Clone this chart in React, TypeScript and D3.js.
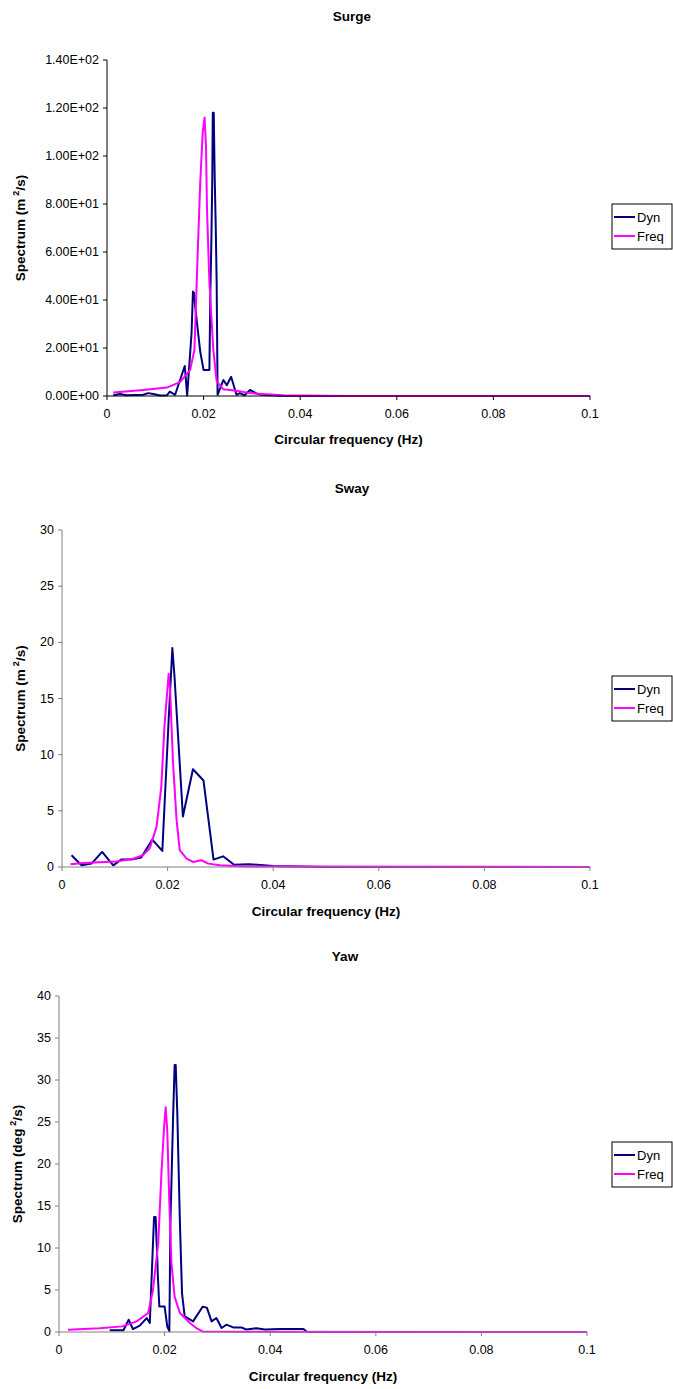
import React from "react";
import * as d3 from "d3";

// Spectra: [frequency (Hz), spectral density]
const surgeDyn: [number, number][] = [
  [0.0013, 0.3], [0.0027, 0.8], [0.004, 0.3], [0.0075, 0.5], [0.0085, 1.2], [0.0096, 0.8],
  [0.011, 0.2], [0.0124, 0.3], [0.013, 1.8], [0.0141, 0.5], [0.0161, 12.5], [0.0166, 0.2],
  [0.0175, 26], [0.0178, 43.5], [0.018, 43], [0.0184, 34.6], [0.0193, 18.5], [0.02, 10.8],
  [0.0212, 10.8], [0.0214, 43], [0.0216, 63.6], [0.0218, 91], [0.0219, 118], [0.0221, 118], [0.0223, 91],
  [0.0225, 72], [0.0227, 48], [0.0229, 0.5], [0.0241, 6.7], [0.0248, 4.5], [0.0257, 8],
  [0.0268, 0.5], [0.0275, 1.2], [0.0285, 0.3], [0.0296, 2.5], [0.031, 1.0], [0.032, 0.5],
  [0.036, 0.1], [0.05, 0], [0.1, 0],
];
const surgeFreq: [number, number][] = [
  [0.0013, 1.5], [0.0075, 2.5], [0.0124, 3.5], [0.0151, 5.8], [0.0172, 10.8], [0.0181, 19.2],
  [0.0188, 60.8], [0.0193, 88.6], [0.0198, 109.4], [0.0202, 116], [0.0205, 104], [0.0207, 78],
  [0.0212, 47.5], [0.022, 19.5], [0.0227, 6.2], [0.0241, 2.8], [0.0268, 2.2], [0.0296, 1.2],
  [0.0365, 0.3], [0.05, 0.05], [0.1, 0],
];

const swayDyn: [number, number][] = [
  [0.0018, 1.04], [0.0037, 0.15], [0.0056, 0.3], [0.0076, 1.34], [0.0097, 0.15], [0.0112, 0.66],
  [0.0131, 0.66], [0.015, 0.84], [0.0171, 2.44], [0.019, 1.43], [0.0202, 13.1], [0.0209, 19.5],
  [0.0213, 17.0], [0.0229, 4.5], [0.0248, 8.7], [0.0268, 7.7], [0.0287, 0.66], [0.0305, 0.95],
  [0.0326, 0.2], [0.0355, 0.25], [0.04, 0.1], [0.05, 0], [0.1, 0],
];
const swayFreq: [number, number][] = [
  [0.0016, 0.24], [0.004, 0.36], [0.0103, 0.48], [0.0135, 0.74], [0.0153, 1.04], [0.0166, 1.64],
  [0.0179, 3.57], [0.0188, 7.1], [0.0194, 12.5], [0.0202, 17.2], [0.0205, 15.5], [0.021, 9.5],
  [0.0217, 4.2], [0.0223, 1.5], [0.0236, 0.74], [0.0248, 0.45], [0.0264, 0.6], [0.0277, 0.3],
  [0.0299, 0.15], [0.035, 0.05], [0.1, 0],
];

const yawDyn: [number, number][] = [
  [0.0096, 0.2], [0.0122, 0.2], [0.0132, 1.46], [0.014, 0.35], [0.0153, 0.75], [0.0166, 1.66],
  [0.0172, 1.07], [0.0175, 5.8], [0.018, 13.7], [0.0183, 13.7], [0.0186, 9.0], [0.0187, 7.0],
  [0.019, 3.05], [0.02, 3.05], [0.0205, 0.67], [0.0209, 0.1], [0.0211, 12.96], [0.0216, 25.4],
  [0.0219, 31.8], [0.0221, 31.8], [0.0224, 26.2], [0.0229, 12.96], [0.0233, 4.6], [0.0238, 1.86],
  [0.0254, 1.26], [0.0272, 3.0], [0.028, 2.9], [0.0289, 1.26], [0.0298, 1.66], [0.0308, 0.47],
  [0.0317, 0.87], [0.033, 0.55], [0.0345, 0.55], [0.0355, 0.3], [0.0374, 0.44], [0.039, 0.3],
  [0.0419, 0.35], [0.0463, 0.35], [0.047, 0], [0.1, 0],
];
const yawFreq: [number, number][] = [
  [0.0017, 0.27], [0.0077, 0.45], [0.012, 0.67], [0.0147, 1.26], [0.0169, 2.26], [0.0178, 5.0],
  [0.0188, 10.6], [0.0194, 18.9], [0.0199, 24.4], [0.0202, 26.75], [0.0205, 24.05], [0.0209, 15.3],
  [0.0213, 8.2], [0.0219, 4.2], [0.0229, 2.26], [0.0248, 1.07], [0.026, 0.47], [0.0272, 0.07],
  [0.035, 0.02], [0.1, 0],
];

const xTicks = [0, 0.02, 0.04, 0.06, 0.08, 0.1];
const surgeTicks = [0, 20, 40, 60, 80, 100, 120, 140];
const swayTicks = [0, 5, 10, 15, 20, 25, 30];
const yawTicks = [0, 5, 10, 15, 20, 25, 30, 35, 40];

const seriesNames = ["Dyn", "Freq"];
const seriesColors = ["#000080", "#FF00FF"];

const FONT = "'Liberation Sans', Arial, sans-serif";

// Excel-style scientific notation, e.g. 1.40E+02
function sci(v: number): string {
  const [m, e] = v.toExponential(2).split("e");
  const n = parseInt(e, 10);
  const sign = n < 0 ? "-" : "+";
  return `${m}E${sign}${String(Math.abs(n)).padStart(2, "0")}`;
}

type ChartProps = {
  title: string;
  unitBase: string;
  dyn: [number, number][];
  freq: [number, number][];
  yTicks: number[];
  yFormat: (v: number) => string;
  left: number;
  right: number;
  top: number;
  bottom: number;
  titleX: number;
  titleY: number;
  xTitleY: number;
  yTitleX: number;
  legendY: number;
  axisColor: string;
};

function Chart(p: ChartProps) {
  const x = d3.scaleLinear().domain([0, 0.1]).range([p.left, p.right]);
  const yMax = p.yTicks[p.yTicks.length - 1];
  const y = d3.scaleLinear().domain([0, yMax]).range([p.bottom, p.top]);
  const line = d3
    .line<[number, number]>()
    .x((d) => x(d[0]))
    .y((d) => y(d[1]));
  const cy = (p.top + p.bottom) / 2;
  const cx = (p.left + p.right) / 2;
  const lx = 612;
  return (
    <g fontFamily={FONT}>
      <text x={p.titleX} y={p.titleY} textAnchor="middle" fontSize={13.5} fontWeight="bold">
        {p.title}
      </text>
      {/* data lines */}
      <path d={line(p.dyn) || ""} fill="none" stroke={seriesColors[0]} strokeWidth={2} strokeLinejoin="round" />
      <path d={line(p.freq) || ""} fill="none" stroke={seriesColors[1]} strokeWidth={2} strokeLinejoin="round" />
      {/* axes */}
      <line x1={p.left} x2={p.left} y1={p.top} y2={p.bottom} stroke={p.axisColor} strokeWidth={1} />
      <line x1={p.left} x2={p.right} y1={p.bottom} y2={p.bottom} stroke={p.axisColor} strokeWidth={1} />
      {p.yTicks.map((t) => (
        <g key={"y" + t}>
          <line x1={p.left - 4} x2={p.left} y1={y(t)} y2={y(t)} stroke={p.axisColor} />
          <text x={p.left - 8} y={y(t) + 4} textAnchor="end" fontSize={12.5}>
            {p.yFormat(t)}
          </text>
        </g>
      ))}
      {xTicks.map((t) => (
        <g key={"x" + t}>
          <line x1={x(t)} x2={x(t)} y1={p.bottom} y2={p.bottom + 4} stroke={p.axisColor} />
          <text x={x(t)} y={p.bottom + 22} textAnchor="middle" fontSize={12.5}>
            {String(t)}
          </text>
        </g>
      ))}
      <text x={cx} y={p.xTitleY} textAnchor="middle" fontSize={13.5} fontWeight="bold">
        Circular frequency (Hz)
      </text>
      <text
        transform={`translate(${p.yTitleX + 5},${cy}) rotate(-90)`}
        textAnchor="middle"
        fontSize={13.5}
        fontWeight="bold"
      >
        {`Spectrum (${p.unitBase}`}
        <tspan dx={3} dy={-6} fontSize={9}>2</tspan>
        <tspan dy={6}>/s)</tspan>
      </text>
      {/* legend */}
      <rect x={lx} y={p.legendY} width={60} height={45} fill="#fff" stroke="#000" strokeWidth={1} />
      {seriesNames.map((n, i) => (
        <g key={n}>
          <line
            x1={lx + 2}
            x2={lx + 23}
            y1={p.legendY + 13 + i * 19}
            y2={p.legendY + 13 + i * 19}
            stroke={seriesColors[i]}
            strokeWidth={2}
          />
          <text x={lx + 25} y={p.legendY + 17.5 + i * 19} fontSize={13}>
            {n}
          </text>
        </g>
      ))}
    </g>
  );
}

export default function App() {
  return (
    <svg
      width={673}
      height={1389}
      style={{ position: "absolute", left: 0, top: 0, background: "#fff" }}
    >
      <rect width={673} height={1389} fill="#fff" />
      <Chart
        title="Surge"
        unitBase="m"
        dyn={surgeDyn}
        freq={surgeFreq}
        yTicks={surgeTicks}
        yFormat={sci}
        left={107}
        right={590}
        top={60}
        bottom={396}
        titleX={352}
        titleY={21}
        xTitleY={444}
        yTitleX={20}
        legendY={204}
        axisColor="#000"
      />
      <Chart
        title="Sway"
        unitBase="m"
        dyn={swayDyn}
        freq={swayFreq}
        yTicks={swayTicks}
        yFormat={(v) => String(v)}
        left={62}
        right={590}
        top={530}
        bottom={867}
        titleX={352}
        titleY={493}
        xTitleY={916}
        yTitleX={20}
        legendY={676}
        axisColor="#808080"
      />
      <Chart
        title="Yaw"
        unitBase="deg"
        dyn={yawDyn}
        freq={yawFreq}
        yTicks={yawTicks}
        yFormat={(v) => String(v)}
        left={59}
        right={587}
        top={996}
        bottom={1332}
        titleX={345}
        titleY={961}
        xTitleY={1381}
        yTitleX={17}
        legendY={1142}
        axisColor="#808080"
      />
    </svg>
  );
}
